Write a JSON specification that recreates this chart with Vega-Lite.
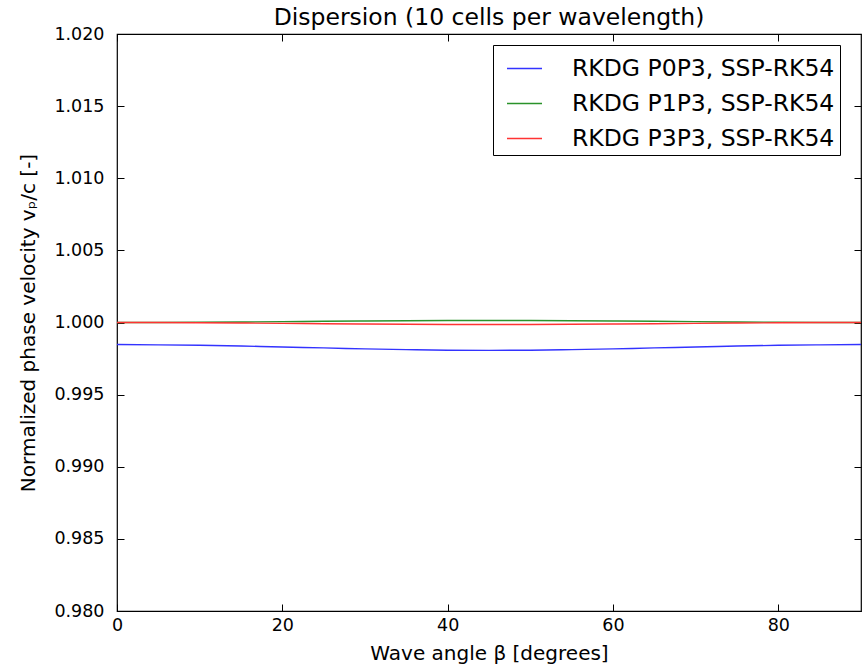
{
  "$schema": "https://vega.github.io/schema/vega-lite/v6.json",
  "autosize": "none",
  "width": 744,
  "height": 577,
  "padding": {"left": 117, "top": 34, "right": 7, "bottom": 57},
  "background": "white",
  "title": {"text": "Dispersion (10 cells per wavelength)", "font": "DejaVu Sans", "fontSize": 23.5, "fontWeight": "normal", "color": "black", "offset": -4, "anchor": "middle"},
  "config": {
    "font": "DejaVu Sans",
    "view": {"stroke": "black", "strokeWidth": 1.2},
    "axis": {"grid": false, "domain": false, "tickColor": "black", "labelColor": "black", "titleColor": "black", "labelFont": "DejaVu Sans", "titleFont": "DejaVu Sans", "labelFontSize": 17.5, "titleFontSize": 20, "titleFontWeight": "normal", "tickSize": -7, "labelPadding": 12, "labelFlush": false}
  },
  "data": {"values": [
    {"s": "RKDG P0P3, SSP-RK54", "b": 0, "v": 0.99847},
    {"s": "RKDG P0P3, SSP-RK54", "b": 5, "v": 0.99845},
    {"s": "RKDG P0P3, SSP-RK54", "b": 10, "v": 0.99842},
    {"s": "RKDG P0P3, SSP-RK54", "b": 15, "v": 0.99837},
    {"s": "RKDG P0P3, SSP-RK54", "b": 20, "v": 0.9983},
    {"s": "RKDG P0P3, SSP-RK54", "b": 25, "v": 0.99824},
    {"s": "RKDG P0P3, SSP-RK54", "b": 30, "v": 0.99817},
    {"s": "RKDG P0P3, SSP-RK54", "b": 35, "v": 0.99812},
    {"s": "RKDG P0P3, SSP-RK54", "b": 40, "v": 0.99808},
    {"s": "RKDG P0P3, SSP-RK54", "b": 45, "v": 0.99807},
    {"s": "RKDG P0P3, SSP-RK54", "b": 50, "v": 0.99808},
    {"s": "RKDG P0P3, SSP-RK54", "b": 55, "v": 0.99812},
    {"s": "RKDG P0P3, SSP-RK54", "b": 60, "v": 0.99817},
    {"s": "RKDG P0P3, SSP-RK54", "b": 65, "v": 0.99824},
    {"s": "RKDG P0P3, SSP-RK54", "b": 70, "v": 0.9983},
    {"s": "RKDG P0P3, SSP-RK54", "b": 75, "v": 0.99837},
    {"s": "RKDG P0P3, SSP-RK54", "b": 80, "v": 0.99842},
    {"s": "RKDG P0P3, SSP-RK54", "b": 85, "v": 0.99845},
    {"s": "RKDG P0P3, SSP-RK54", "b": 90, "v": 0.99847},
    {"s": "RKDG P1P3, SSP-RK54", "b": 0, "v": 1.0},
    {"s": "RKDG P1P3, SSP-RK54", "b": 5, "v": 1.000004},
    {"s": "RKDG P1P3, SSP-RK54", "b": 10, "v": 1.000016},
    {"s": "RKDG P1P3, SSP-RK54", "b": 15, "v": 1.000035},
    {"s": "RKDG P1P3, SSP-RK54", "b": 20, "v": 1.000058},
    {"s": "RKDG P1P3, SSP-RK54", "b": 25, "v": 1.000082},
    {"s": "RKDG P1P3, SSP-RK54", "b": 30, "v": 1.000105},
    {"s": "RKDG P1P3, SSP-RK54", "b": 35, "v": 1.000124},
    {"s": "RKDG P1P3, SSP-RK54", "b": 40, "v": 1.000136},
    {"s": "RKDG P1P3, SSP-RK54", "b": 45, "v": 1.00014},
    {"s": "RKDG P1P3, SSP-RK54", "b": 50, "v": 1.000136},
    {"s": "RKDG P1P3, SSP-RK54", "b": 55, "v": 1.000124},
    {"s": "RKDG P1P3, SSP-RK54", "b": 60, "v": 1.000105},
    {"s": "RKDG P1P3, SSP-RK54", "b": 65, "v": 1.000082},
    {"s": "RKDG P1P3, SSP-RK54", "b": 70, "v": 1.000058},
    {"s": "RKDG P1P3, SSP-RK54", "b": 75, "v": 1.000035},
    {"s": "RKDG P1P3, SSP-RK54", "b": 80, "v": 1.000016},
    {"s": "RKDG P1P3, SSP-RK54", "b": 85, "v": 1.000004},
    {"s": "RKDG P1P3, SSP-RK54", "b": 90, "v": 1.0},
    {"s": "RKDG P3P3, SSP-RK54", "b": 0, "v": 1.0},
    {"s": "RKDG P3P3, SSP-RK54", "b": 5, "v": 0.999996},
    {"s": "RKDG P3P3, SSP-RK54", "b": 10, "v": 0.999984},
    {"s": "RKDG P3P3, SSP-RK54", "b": 15, "v": 0.999965},
    {"s": "RKDG P3P3, SSP-RK54", "b": 20, "v": 0.999942},
    {"s": "RKDG P3P3, SSP-RK54", "b": 25, "v": 0.999918},
    {"s": "RKDG P3P3, SSP-RK54", "b": 30, "v": 0.999895},
    {"s": "RKDG P3P3, SSP-RK54", "b": 35, "v": 0.999876},
    {"s": "RKDG P3P3, SSP-RK54", "b": 40, "v": 0.999864},
    {"s": "RKDG P3P3, SSP-RK54", "b": 45, "v": 0.99986},
    {"s": "RKDG P3P3, SSP-RK54", "b": 50, "v": 0.999864},
    {"s": "RKDG P3P3, SSP-RK54", "b": 55, "v": 0.999876},
    {"s": "RKDG P3P3, SSP-RK54", "b": 60, "v": 0.999895},
    {"s": "RKDG P3P3, SSP-RK54", "b": 65, "v": 0.999918},
    {"s": "RKDG P3P3, SSP-RK54", "b": 70, "v": 0.999942},
    {"s": "RKDG P3P3, SSP-RK54", "b": 75, "v": 0.999965},
    {"s": "RKDG P3P3, SSP-RK54", "b": 80, "v": 0.999984},
    {"s": "RKDG P3P3, SSP-RK54", "b": 85, "v": 0.999996},
    {"s": "RKDG P3P3, SSP-RK54", "b": 90, "v": 1.0}
  ]},
  "layer": [
    {
      "mark": {"type": "line", "strokeWidth": 1.4, "interpolate": "monotone"},
      "encoding": {
        "x": {"field": "b", "type": "quantitative", "scale": {"domain": [0, 90], "nice": false, "zero": false}, "axis": {"title": "Wave angle β [degrees]", "values": [0, 20, 40, 60, 80], "titlePadding": 10}},
        "y": {"field": "v", "type": "quantitative", "scale": {"domain": [0.98, 1.02], "nice": false, "zero": false}, "axis": {"title": "Normalized phase velocity vₚ/c [-]", "format": ".3f", "values": [0.98, 0.985, 0.99, 0.995, 1.0, 1.005, 1.01, 1.015, 1.02], "labelPadding": 20, "titlePadding": 15}},
        "color": {"field": "s", "type": "nominal", "scale": {"domain": ["RKDG P0P3, SSP-RK54", "RKDG P1P3, SSP-RK54", "RKDG P3P3, SSP-RK54"], "range": ["#3333ff", "#2a922a", "#ff3333"]},
          "legend": {"title": null, "orient": "none", "legendX": 376, "legendY": 11, "symbolType": "stroke", "symbolSize": 1225, "symbolStrokeWidth": 1.5, "symbolOffset": 8, "labelFontSize": 23.5, "labelFont": "DejaVu Sans", "labelColor": "black", "strokeColor": "black", "fillColor": "white", "padding": 5, "rowPadding": 5, "labelOffset": 29, "offset": 0, "labelLimit": 400}}
      }
    },
    {
      "mark": {"type": "line", "opacity": 0},
      "encoding": {
        "x": {"field": "b", "type": "quantitative", "axis": {"orient": "top", "title": null, "labels": false, "labelPadding": 0, "values": [0, 20, 40, 60, 80]}},
        "y": {"field": "v", "type": "quantitative", "axis": {"orient": "right", "title": null, "labels": false, "labelPadding": 0, "values": [0.98, 0.985, 0.99, 0.995, 1.0, 1.005, 1.01, 1.015, 1.02]}}
      }
    }
  ],
  "resolve": {"axis": {"x": "independent", "y": "independent"}}
}
